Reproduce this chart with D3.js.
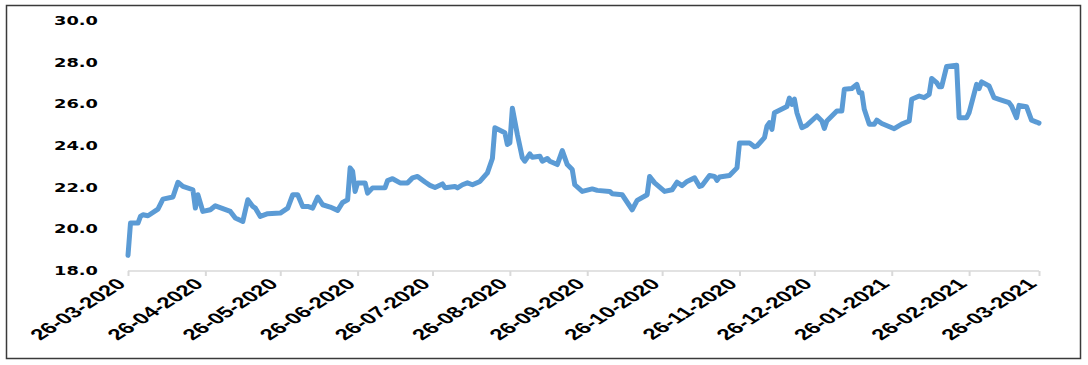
<!DOCTYPE html>
<html>
<head>
<meta charset="utf-8">
<script src="https://cdn.jsdelivr.net/npm/d3@7"></script>
<style>
body { margin: 0; background: #fff; }
svg { display: block; }
</style>
</head>
<body>
<div id="chart"></div>
<script>
// series
var dates = ["2020-03-26","2020-03-27","2020-03-30","2020-03-31","2020-04-01","2020-04-03","2020-04-07","2020-04-09","2020-04-13","2020-04-15",
	"2020-04-17","2020-04-21","2020-04-22","2020-04-23","2020-04-25","2020-04-28","2020-04-30","2020-05-06","2020-05-08","2020-05-11",
	"2020-05-13","2020-05-15","2020-05-16","2020-05-18","2020-05-21","2020-05-26","2020-05-29","2020-05-31","2020-06-02","2020-06-04",
	"2020-06-06","2020-06-08","2020-06-10","2020-06-12","2020-06-15","2020-06-18","2020-06-20","2020-06-22","2020-06-23","2020-06-24",
	"2020-06-25","2020-06-26","2020-06-29","2020-06-30","2020-07-02","2020-07-07","2020-07-08","2020-07-10","2020-07-13","2020-07-16",
	"2020-07-18","2020-07-20","2020-07-23","2020-07-25","2020-07-27","2020-07-30","2020-07-31","2020-08-04","2020-08-05","2020-08-07",
	"2020-08-09","2020-08-11","2020-08-14","2020-08-17","2020-08-19","2020-08-20","2020-08-24","2020-08-25","2020-08-26","2020-08-27",
	"2020-08-29","2020-08-31","2020-09-01","2020-09-03","2020-09-04","2020-09-07","2020-09-08","2020-09-10","2020-09-11","2020-09-14",
	"2020-09-16","2020-09-18","2020-09-20","2020-09-21","2020-09-24","2020-09-28","2020-09-30","2020-10-05","2020-10-06","2020-10-10",
	"2020-10-14","2020-10-16","2020-10-20","2020-10-21","2020-10-23","2020-10-27","2020-10-30","2020-11-01","2020-11-03","2020-11-05",
	"2020-11-08","2020-11-10","2020-11-11","2020-11-14","2020-11-16","2020-11-17","2020-11-18","2020-11-22","2020-11-25","2020-11-26",
	"2020-11-30","2020-12-02","2020-12-03","2020-12-06","2020-12-07","2020-12-08","2020-12-09","2020-12-10","2020-12-12","2020-12-15",
	"2020-12-16","2020-12-17","2020-12-18","2020-12-19","2020-12-21","2020-12-23","2020-12-27","2020-12-29","2020-12-30","2020-12-31",
	"2021-01-04","2021-01-06","2021-01-07","2021-01-10","2021-01-12","2021-01-13","2021-01-14","2021-01-15","2021-01-17","2021-01-19",
	"2021-01-20","2021-01-22","2021-01-27","2021-01-30","2021-02-02","2021-02-03","2021-02-06","2021-02-08","2021-02-10","2021-02-11",
	"2021-02-13","2021-02-14","2021-02-15","2021-02-17","2021-02-21","2021-02-22","2021-02-25","2021-02-26","2021-03-01","2021-03-02",
	"2021-03-03","2021-03-06","2021-03-08","2021-03-10","2021-03-14","2021-03-15","2021-03-17","2021-03-18","2021-03-21","2021-03-23",
	"2021-03-25","2021-03-26"];
var values = [18.75,20.3,20.3,20.62,20.7,20.65,20.97,21.45,21.55,22.26,
	22.06,21.9,21.02,21.66,20.86,20.94,21.13,20.86,20.54,20.38,
	21.42,21.1,21.02,20.62,20.75,20.78,21.02,21.66,21.66,21.1,
	21.1,21.02,21.55,21.18,21.07,20.91,21.29,21.42,22.95,22.79,
	21.82,22.23,22.23,21.74,21.99,22.0,22.34,22.43,22.23,22.23,
	22.47,22.54,22.27,22.11,22.01,22.18,22.0,22.06,21.99,22.14,
	22.23,22.14,22.3,22.71,23.4,24.88,24.64,24.07,24.15,25.81,
	24.55,23.43,23.27,23.62,23.46,23.51,23.27,23.4,23.27,23.11,
	23.78,23.11,22.87,22.14,21.82,21.94,21.87,21.82,21.71,21.66,
	20.94,21.39,21.66,22.54,22.23,21.82,21.9,22.26,22.1,22.3,
	22.47,22.06,22.1,22.58,22.54,22.35,22.51,22.58,22.95,24.15,
	24.15,23.96,24.0,24.4,24.95,25.12,24.8,25.6,25.72,25.9,
	26.3,26.0,26.25,25.6,24.88,25.0,25.44,25.2,24.84,25.2,
	25.68,25.68,26.72,26.76,26.96,26.56,26.56,25.76,25.04,25.04,
	25.24,25.08,24.83,25.05,25.2,26.24,26.4,26.32,26.48,27.24,
	27.04,26.85,26.85,27.82,27.88,25.36,25.36,25.6,26.96,26.76,
	27.08,26.88,26.32,26.24,26.08,25.92,25.36,25.95,25.89,25.24,
	25.15,25.1];

// axes
var yTicks = [18, 20, 22, 24, 26, 28, 30];
var xTicks = ["2020-03-26","2020-04-26","2020-05-26","2020-06-26","2020-07-26","2020-08-26","2020-09-26",
	"2020-10-26","2020-11-26","2020-12-26","2021-01-26","2021-02-26","2021-03-26"];

var width = 1088,
	height = 365,
	stretch = 1.55;   // the picture is drawn wide, text too

var parse = d3.timeParse("%Y-%m-%d"),
	fmt = d3.timeFormat("%d-%m-%Y");

var data = dates.map(function(d, i){ return {date: parse(d), value: values[i]}; });

var svg = d3.select("#chart").append("svg")
	.attr("width", width)
	.attr("height", height);

// outer frame
svg.append("rect")
	.attr("x", 6.5).attr("y", 5.5)
	.attr("width", 1074).attr("height", 353)
	.style("fill", "none")
	.style("stroke", "#3a3a3a")
	.style("stroke-width", 1.5);

var x = d3.scaleTime()
	.domain([parse(xTicks[0]), parse(xTicks[xTicks.length - 1])])
	.range([128, 1039]);

var y = d3.scaleLinear()
	.domain([18, 30])
	.range([271, 21]);

// x axis line + ticks
var xAxis = svg.append("g")
	.attr("transform", "translate(0," + y(18) + ")")
	.call(d3.axisBottom(x)
		.tickValues(xTicks.map(parse))
		.tickSize(5)
		.tickFormat(""));
xAxis.select(".domain").attr("stroke", "#d9d9d9").attr("stroke-width", 1.5).attr("d", "M" + x.range()[0] + ",0H" + x.range()[1]);
xAxis.selectAll(".tick line").attr("stroke", "#d9d9d9").attr("stroke-width", 2);

svg.append("g").selectAll("text")
	.data(xTicks)
	.enter().append("text")
	.attr("transform", function(d){ return "translate(" + (x(parse(d)) - 1) + "," + (y(18) + 14) + ") scale(" + stretch + ",1) rotate(-45)"; })
	.style("text-anchor", "end")
	.style("font", "bold 15.5px 'Liberation Sans', Arial, sans-serif")
	.style("fill", "#000")
	.text(function(d){ return fmt(parse(d)); });

// y labels, no axis line
svg.append("g").selectAll("text")
	.data(yTicks)
	.enter().append("text")
	.attr("transform", function(d){ return "translate(98," + y(d) + ") scale(" + stretch + ",1)"; })
	.attr("dy", "0.36em")
	.style("text-anchor", "end")
	.style("font", "bold 11.5px 'DejaVu Sans', Verdana, sans-serif")
	.style("fill", "#000")
	.text(function(d){ return d3.format(".1f")(d); });

var line = d3.line()
	.x(function(d){ return x(d.date); })
	.y(function(d){ return y(d.value); });

svg.append("path")
	.datum(data)
	.attr("d", line)
	.style("fill", "none")
	.style("stroke", "#5b9bd5")
	.style("stroke-width", 5)
	.style("stroke-linejoin", "round")
	.style("stroke-linecap", "round");
</script>
</body>
</html>
